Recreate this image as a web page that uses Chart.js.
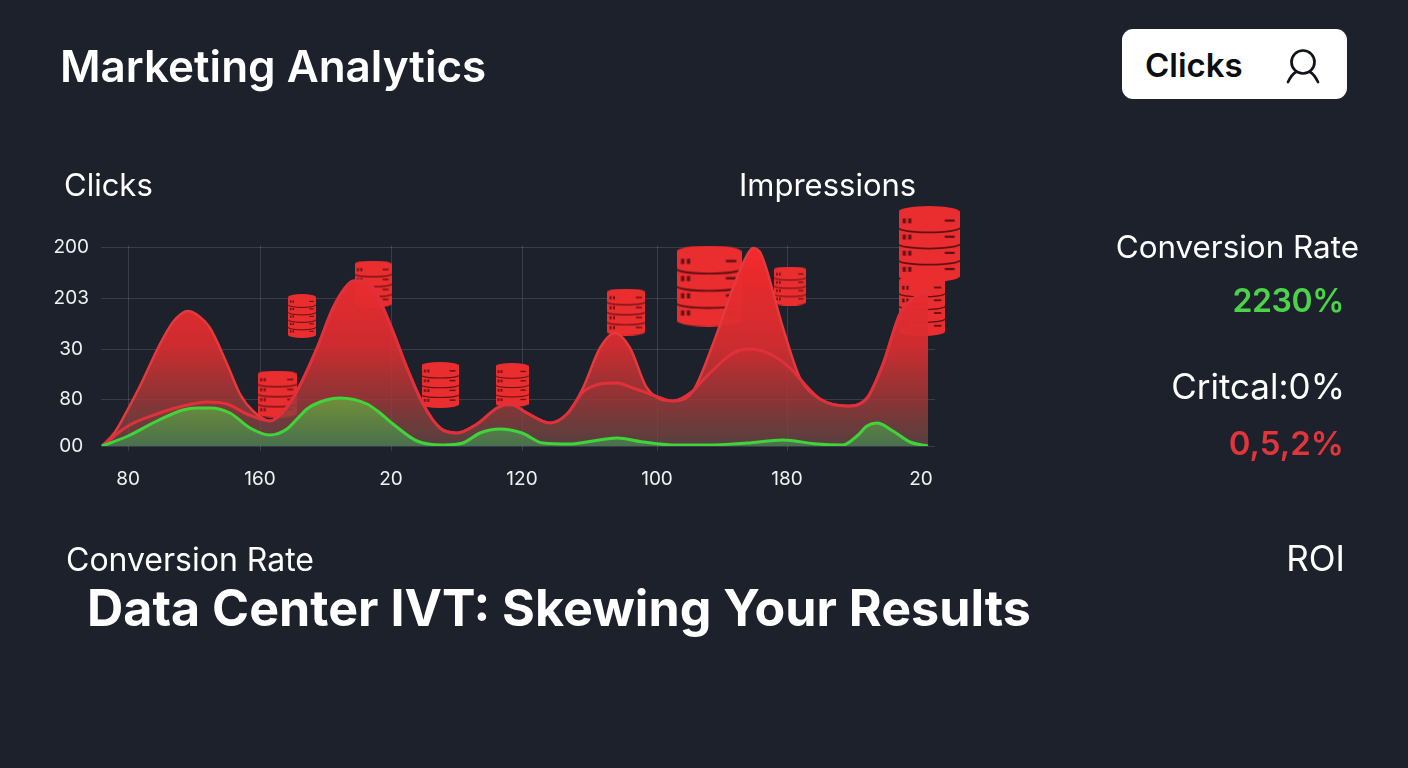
<!DOCTYPE html>
<html>
<head>
<meta charset="utf-8">
<title>Marketing Analytics</title>
<script src="https://cdn.jsdelivr.net/npm/chart.js@4/dist/chart.umd.min.js"></script>
<style>
  html, body { margin: 0; padding: 0; width: 1408px; height: 768px; overflow: hidden; background: #1c212c; font-family: Inter, "Noto Sans", sans-serif; color: #fff; }
  canvas { position: absolute; left: 0; top: 0; }
  .t { position: absolute; white-space: nowrap; transform: translateY(-50%); line-height: 1; }
  .r { transform: translate(-100%, -50%); }
  #badge { position: absolute; left: 1122px; top: 29px; width: 225px; height: 70px; background: #fff; border-radius: 11px; }
  #badge span { position: absolute; left: 23px; top: 36px; transform: translateY(-50%); color: #0c0e12; font-size: 33px; font-weight: 600; line-height: 1; }
  #badge svg { position: absolute; left: 160px; top: 14px; }
</style>
</head>
<body>
<canvas id="chart" width="1408" height="768"></canvas>

<div class="t" style="left:60px;top:66px;font-size:44px;font-weight:600">Marketing Analytics</div>
<div id="badge">
  <span>Clicks</span>
  <svg width="42" height="44" viewBox="0 0 42 44" fill="none" stroke="#111318" stroke-width="2.7" stroke-linecap="round">
    <circle cx="21" cy="19" r="11.5"></circle>
    <path d="M6 39 C9 33 12 30 14 29"></path>
    <path d="M36 39 C33 33 30 30 28 29"></path>
  </svg>
</div>

<div class="t" style="left:64px;top:184px;font-size:31px">Clicks</div>
<div class="t" style="left:739px;top:184px;font-size:31px">Impressions</div>

<div class="t r" style="left:1359px;top:247.5px;font-size:31.4px">Conversion Rate</div>
<div class="t r" style="left:1344px;top:301px;font-size:32px;font-weight:600;letter-spacing:-0.4px;color:#4cd34a">2230%</div>
<div class="t r" style="left:1345px;top:386px;font-size:35px">Critcal:0%</div>
<div class="t r" style="left:1344px;top:443px;font-size:33px;font-weight:600;color:#e0353b">0,5,2%</div>

<div class="t" style="left:66px;top:559.5px;font-size:32px">Conversion Rate</div>
<div class="t r" style="left:1345px;top:558px;font-size:35px">ROI</div>
<div class="t" style="left:87px;top:608px;font-size:50.2px;font-weight:700">Data Center IVT: Skewing Your Results</div>

<script>
const xTickValues = [27, 159, 290, 421, 556, 686, 820];
const xTickLabels = ["80", "160", "20", "120", "100", "180", "20"];
const yTickValues = [0, 47, 97, 147.5, 198.5];
const yTickLabels = ["00", "80", "30", "203", "200"];

const upperX = [1, 14, 27, 39, 59, 72, 80, 87, 95, 109, 126, 139, 152, 169, 182, 196, 216, 232, 244, 252, 260, 272, 289, 306, 322, 339, 356, 376, 396, 409, 426, 449, 466, 482, 499, 514, 529, 546, 572, 592, 612, 632, 644, 652, 660, 682, 699, 719, 746, 766, 782, 799, 816, 827];
const upperY = [0, 14, 37, 60, 102, 124, 132, 135, 132, 118, 82, 52, 35, 25, 34, 55, 98, 138, 158, 165, 165, 158, 122, 78, 42, 18, 13, 22, 38, 42, 33, 23, 32, 58, 98, 113, 98, 58, 45, 55, 102, 158, 187, 198, 192, 118, 68, 47, 40, 48, 82, 132, 150, 155];

const lowerX = [1, 27, 56, 82, 106, 126, 146, 169, 182, 196, 216, 232, 244, 252, 260, 272, 289, 306, 322, 339, 356, 376, 396, 409, 426, 449, 466, 482, 490, 499, 516, 532, 549, 572, 592, 602, 612, 632, 649, 669, 689, 699, 719, 746, 766, 782, 799, 816, 827];
const lowerY = [0, 20, 32, 40, 44, 42, 32, 25, 34, 55, 98, 138, 158, 165, 165, 158, 122, 78, 42, 18, 13, 22, 38, 42, 33, 23, 32, 54, 59, 62, 63, 58, 52, 45, 55, 66, 76, 93, 97, 92, 78, 67, 47, 40, 48, 82, 132, 150, 155];

const greenX = [1, 27, 56, 82, 96, 109, 129, 149, 169, 186, 196, 206, 219, 239, 266, 279, 292, 316, 342, 362, 379, 399, 421, 442, 469, 492, 516, 542, 572, 606, 646, 682, 716, 742, 756, 766, 776, 792, 809, 827];
const greenY = [0, 10, 25, 36, 38, 38, 33, 18, 11, 17, 27, 37, 44, 48, 42, 33, 22, 5, 1, 3, 13, 17, 13, 3, 2, 5, 8, 4, 1, 1, 3, 6, 2, 1, 10, 20, 23, 15, 4, 0];

const serverX = [201, 176, 272, 339, 411, 525, 608, 689, 828, 821];
const serverY = [130, 52, 162, 61, 61, 134, 160, 160, 202, 140];

function makeServer(w, h, tiers) {
  const c = document.createElement("canvas");
  c.width = w;
  c.height = h;
  const g = c.getContext("2d");
  const ry = h * 0.075;
  g.fillStyle = "#ea2d2f";
  g.beginPath();
  g.ellipse(w / 2, ry, w / 2, ry, 0, Math.PI, 0);
  g.lineTo(w, h - ry);
  g.ellipse(w / 2, h - ry, w / 2, ry, 0, 0, Math.PI);
  g.closePath();
  g.fill();
  g.strokeStyle = "#5f1114";
  g.fillStyle = "#5f1114";
  g.lineWidth = Math.max(1, w / 34);
  const tierH = (h - ry * 2) / tiers;
  for (let i = 0; i < tiers; i++) {
    const y = ry + tierH * i;
    if (i > 0) {
      g.beginPath();
      g.ellipse(w / 2, y, w / 2, ry * 0.8, 0, Math.PI, 0, true);
      g.stroke();
    }
    const my = y + tierH * 0.42;
    g.fillRect(w * 0.07, my, w * 0.05, tierH * 0.3);
    g.fillRect(w * 0.16, my, w * 0.05, tierH * 0.3);
    g.fillRect(w * 0.76, my + tierH * 0.06, w * 0.16, tierH * 0.14);
  }
  return c;
}

const serverIcons = [
  makeServer(28, 44, 5), makeServer(39, 47, 4), makeServer(37, 47, 4), makeServer(37, 46, 4),
  makeServer(33, 44, 4), makeServer(38, 47, 4), makeServer(65, 81, 4), makeServer(32, 39, 4),
  makeServer(61, 76, 4), makeServer(46, 60, 4)
];

function toPoints(xs, ys) {
  return xs.map((x, i) => ({ x: x, y: ys[i] }));
}

function gradient(context, stops) {
  const { chart } = context;
  if (!chart.chartArea) return "transparent";
  const y = chart.scales.y;
  const g = chart.ctx.createLinearGradient(0, y.getPixelForValue(200), 0, y.getPixelForValue(0));
  stops.forEach(s => g.addColorStop(s[0], s[1]));
  return g;
}

// vertical grid stops at the top tick, the y scale runs higher for the server icons
const verticalGrid = {
  id: "verticalGrid",
  beforeDatasetsDraw(chart) {
    const { ctx, scales } = chart;
    const top = scales.y.getPixelForValue(yTickValues[yTickValues.length - 1]);
    ctx.save();
    ctx.strokeStyle = "rgba(255,255,255,0.13)";
    ctx.lineWidth = 1;
    xTickValues.slice(0, 6).forEach(v => {
      const x = Math.round(scales.x.getPixelForValue(v)) + 0.5;
      ctx.beginPath();
      ctx.moveTo(x, top - 2);
      ctx.lineTo(x, scales.y.bottom + 5);
      ctx.stroke();
    });
    ctx.restore();
  }
};

new Chart(document.getElementById("chart"), {
  type: "line",
  data: {
    datasets: [
      {
        label: "Servers",
        data: toPoints(serverX, serverY),
        showLine: false,
        order: 4,
        pointStyle: serverIcons,
        pointRadius: 20,
        clip: false
      },
      {
        label: "Impressions",
        data: toPoints(upperX, upperY),
        borderColor: "#e5393c",
        borderWidth: 2.5,
        cubicInterpolationMode: "monotone",
        pointRadius: 0,
        order: 3,
        fill: "origin",
        backgroundColor: ctx => gradient(ctx, [[0, "rgba(245,42,45,1)"], [0.5, "rgba(215,45,48,0.95)"], [0.75, "rgba(165,55,55,0.85)"], [1, "rgba(105,75,70,0.75)"]])
      },
      {
        label: "Clicks",
        data: toPoints(lowerX, lowerY),
        borderColor: "#e2303a",
        borderWidth: 3,
        cubicInterpolationMode: "monotone",
        pointRadius: 0,
        order: 2,
        fill: false
      },
      {
        label: "Conversions",
        data: toPoints(greenX, greenY),
        borderColor: "#3fd43a",
        borderWidth: 3,
        cubicInterpolationMode: "monotone",
        pointRadius: 0,
        order: 1,
        fill: "origin",
        backgroundColor: ctx => gradient(ctx, [[0.7, "rgba(120,165,50,0.9)"], [1, "rgba(70,125,80,0.8)"]])
      }
    ]
  },
  options: {
    responsive: false,
    animation: false,
    devicePixelRatio: 1,
    layout: { padding: { left: 0, right: 473, top: 200, bottom: 272 } },
    plugins: { legend: { display: false }, tooltip: { enabled: false } },
    scales: {
      x: {
        type: "linear",
        min: 0,
        max: 834,
        afterBuildTicks: axis => { axis.ticks = xTickValues.map(v => ({ value: v })); },
        afterFit: axis => { axis.height = 50; },
        grid: { display: false },
        border: { display: false },
        ticks: {
          autoSkip: false,
          maxRotation: 0,
          padding: 14,
          color: "#f0f1f2",
          font: { family: "Inter", size: 19 },
          callback: value => xTickLabels[xTickValues.indexOf(value)]
        }
      },
      y: {
        min: 0,
        max: 246,
        afterBuildTicks: axis => { axis.ticks = yTickValues.map(v => ({ value: v })); },
        afterFit: axis => { axis.width = 101; },
        grid: { color: "rgba(255,255,255,0.13)", drawTicks: false },
        border: { display: false },
        ticks: {
          autoSkip: false,
          crossAlign: "center",
          padding: 12,
          color: "#f0f1f2",
          font: { family: "Inter", size: 19 },
          callback: value => yTickLabels[yTickValues.indexOf(value)]
        }
      }
    }
  },
  plugins: [verticalGrid]
});
</script>
</body>
</html>
